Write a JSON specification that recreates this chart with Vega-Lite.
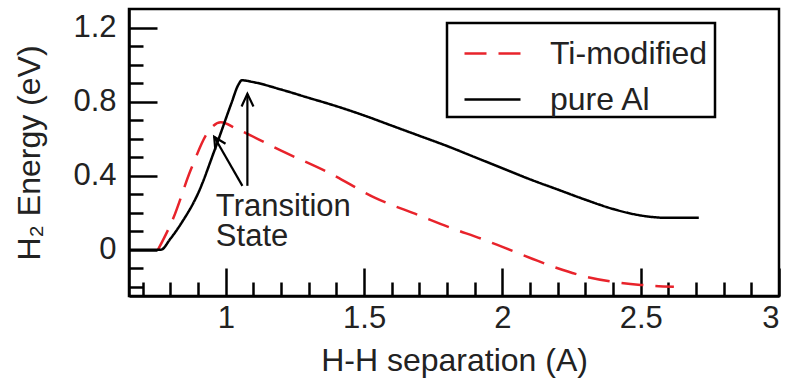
{
  "$schema": "https://vega.github.io/schema/vega-lite/v6.json",
  "autosize": "none",
  "width": 650,
  "height": 287,
  "padding": {"left": 129, "top": 9, "right": 13, "bottom": 82},
  "background": "white",
  "datasets": {
    "curves": [
      {"series": "Ti-modified", "x": 0.755, "y": 0},
      {"series": "Ti-modified", "x": 0.81, "y": 0.17},
      {"series": "Ti-modified", "x": 0.873, "y": 0.43},
      {"series": "Ti-modified", "x": 0.94, "y": 0.645},
      {"series": "Ti-modified", "x": 0.982, "y": 0.688},
      {"series": "Ti-modified", "x": 1.04, "y": 0.652},
      {"series": "Ti-modified", "x": 1.2, "y": 0.535},
      {"series": "Ti-modified", "x": 1.38, "y": 0.41},
      {"series": "Ti-modified", "x": 1.54, "y": 0.28},
      {"series": "Ti-modified", "x": 1.7, "y": 0.185},
      {"series": "Ti-modified", "x": 1.81, "y": 0.12},
      {"series": "Ti-modified", "x": 1.93, "y": 0.056},
      {"series": "Ti-modified", "x": 2.0, "y": 0.015},
      {"series": "Ti-modified", "x": 2.11, "y": -0.05},
      {"series": "Ti-modified", "x": 2.2, "y": -0.1},
      {"series": "Ti-modified", "x": 2.3, "y": -0.145},
      {"series": "Ti-modified", "x": 2.4, "y": -0.173},
      {"series": "Ti-modified", "x": 2.5, "y": -0.19},
      {"series": "Ti-modified", "x": 2.62, "y": -0.2},
      {"series": "pure Al", "x": 0.65, "y": 0},
      {"series": "pure Al", "x": 0.765, "y": 0},
      {"series": "pure Al", "x": 0.8, "y": 0.06},
      {"series": "pure Al", "x": 0.84, "y": 0.145},
      {"series": "pure Al", "x": 0.9, "y": 0.305},
      {"series": "pure Al", "x": 0.96, "y": 0.54},
      {"series": "pure Al", "x": 1.02, "y": 0.79},
      {"series": "pure Al", "x": 1.045, "y": 0.89},
      {"series": "pure Al", "x": 1.058, "y": 0.915},
      {"series": "pure Al", "x": 1.1, "y": 0.905},
      {"series": "pure Al", "x": 1.2, "y": 0.865},
      {"series": "pure Al", "x": 1.3, "y": 0.82},
      {"series": "pure Al", "x": 1.4, "y": 0.775},
      {"series": "pure Al", "x": 1.5, "y": 0.725},
      {"series": "pure Al", "x": 1.6, "y": 0.67},
      {"series": "pure Al", "x": 1.7, "y": 0.615},
      {"series": "pure Al", "x": 1.8, "y": 0.56},
      {"series": "pure Al", "x": 1.9, "y": 0.5},
      {"series": "pure Al", "x": 2.0, "y": 0.44},
      {"series": "pure Al", "x": 2.1, "y": 0.38},
      {"series": "pure Al", "x": 2.2, "y": 0.325},
      {"series": "pure Al", "x": 2.3, "y": 0.27},
      {"series": "pure Al", "x": 2.4, "y": 0.22},
      {"series": "pure Al", "x": 2.5, "y": 0.185},
      {"series": "pure Al", "x": 2.6, "y": 0.172},
      {"series": "pure Al", "x": 2.71, "y": 0.172}
    ],
    "arrows": [
      {"seg": "a1", "k": 1, "x": 1.06, "y": 0.345},
      {"seg": "a1", "k": 2, "x": 0.958, "y": 0.61},
      {"seg": "h1", "k": 1, "x": 0.962, "y": 0.54},
      {"seg": "h1", "k": 2, "x": 0.958, "y": 0.61},
      {"seg": "h1", "k": 3, "x": 0.999, "y": 0.572},
      {"seg": "a2", "k": 1, "x": 1.078, "y": 0.345},
      {"seg": "a2", "k": 2, "x": 1.078, "y": 0.842},
      {"seg": "h2", "k": 1, "x": 1.057, "y": 0.773},
      {"seg": "h2", "k": 2, "x": 1.078, "y": 0.842},
      {"seg": "h2", "k": 3, "x": 1.1, "y": 0.773}
    ],
    "notes": [
      {"text": "Transition", "x": 0.964, "y": 0.183},
      {"text": "State", "x": 0.964, "y": 0.02}
    ]
  },
  "layer": [
    {
      "data": {"name": "curves"},
      "mark": {"type": "line", "strokeWidth": 2.5, "interpolate": "monotone", "clip": true},
      "encoding": {
        "x": {
          "field": "x", "type": "quantitative",
          "scale": {"domain": [0.65, 3.0], "nice": false, "zero": false},
          "axis": {
            "title": "H-H separation (A)",
            "values": [0.7, 0.8, 0.9, 1.0, 1.1, 1.2, 1.3, 1.4, 1.5, 1.6, 1.7, 1.8, 1.9, 2.0, 2.1, 2.2, 2.3, 2.4, 2.5, 2.6, 2.7, 2.8, 2.9, 3.0],
            "tickCount": 200,
            "format": "~g",
            "labelOverlap": false,
            "labelExpr": "round(datum.value*10) % 5 == 0 ? datum.label : ''",
            "tickSize": {"condition": {"test": "round(datum.value*10) % 5 == 0", "value": -28}, "value": -14},
            "labelPadding": 35,
            "titlePadding": -2
          }
        },
        "y": {
          "field": "y", "type": "quantitative",
          "scale": {"domain": [-0.25, 1.3], "nice": false, "zero": false},
          "axis": {
            "title": "H₂ Energy (eV)",
            "values": [-0.2, -0.1, 0, 0.1, 0.2, 0.3, 0.4, 0.5, 0.6, 0.7, 0.8, 0.9, 1.0, 1.1, 1.2],
            "tickCount": 200,
            "format": "~g",
            "labelOverlap": false,
            "labelExpr": "abs(round(datum.value*10)) % 4 == 0 ? datum.label : ''",
            "tickSize": {"condition": {"test": "abs(round(datum.value*10)) % 4 == 0", "value": -28}, "value": -14},
            "labelPadding": 41,
            "titlePadding": 26
          }
        },
        "color": {
          "field": "series", "type": "nominal",
          "scale": {"domain": ["Ti-modified", "pure Al"], "range": ["#e8232b", "#000000"]},
          "legend": {
            "title": "\u00a0",
            "titleOrient": "right",
            "titleFontSize": 4,
            "titlePadding": 7,
            "orient": "none",
            "legendX": 318,
            "legendY": 14,
            "strokeColor": "black",
            "padding": 1,
            "rowPadding": -21,
            "symbolType": "M-1,0H1",
            "symbolSize": 3136,
            "symbolOffset": 15,
            "symbolStrokeWidth": 2.5,
            "symbolFillColor": "transparent",
            "labelFontSize": 32,
            "labelFont": "Liberation Sans",
            "labelColor": "#222",
            "labelOffset": 28,
            "labelLimit": 400
          }
        },
        "strokeDash": {
          "field": "series", "type": "nominal",
          "scale": {"domain": ["Ti-modified", "pure Al"], "range": [[22, 12], [1, 0]]},
          "legend": null
        }
      }
    },
    {
      "data": {"name": "arrows"},
      "mark": {"type": "line", "color": "black", "strokeWidth": 2.2},
      "encoding": {
        "x": {"field": "x", "type": "quantitative"},
        "y": {"field": "y", "type": "quantitative"},
        "detail": {"field": "seg", "type": "nominal"},
        "order": {"field": "k", "type": "quantitative"}
      }
    },
    {
      "data": {"name": "notes"},
      "mark": {"type": "text", "align": "left", "baseline": "alphabetic", "fontSize": 31, "font": "Liberation Sans", "color": "#222"},
      "encoding": {
        "x": {"field": "x", "type": "quantitative"},
        "y": {"field": "y", "type": "quantitative"},
        "text": {"field": "text", "type": "nominal"}
      }
    }
  ],
  "config": {
    "view": {"stroke": "black", "strokeWidth": 2.5},
    "font": "Liberation Sans",
    "axis": {
      "grid": false,
      "domainColor": "black",
      "domainWidth": 2.5,
      "tickColor": "black",
      "tickWidth": 2.5,
      "labelFontSize": 31,
      "labelFont": "Liberation Sans",
      "labelColor": "#222",
      "titleFontSize": 32,
      "titleFont": "Liberation Sans",
      "titleFontWeight": "normal",
      "titleColor": "#222"
    },
    "legend": {"strokeWidth": 2.5}
  }
}
